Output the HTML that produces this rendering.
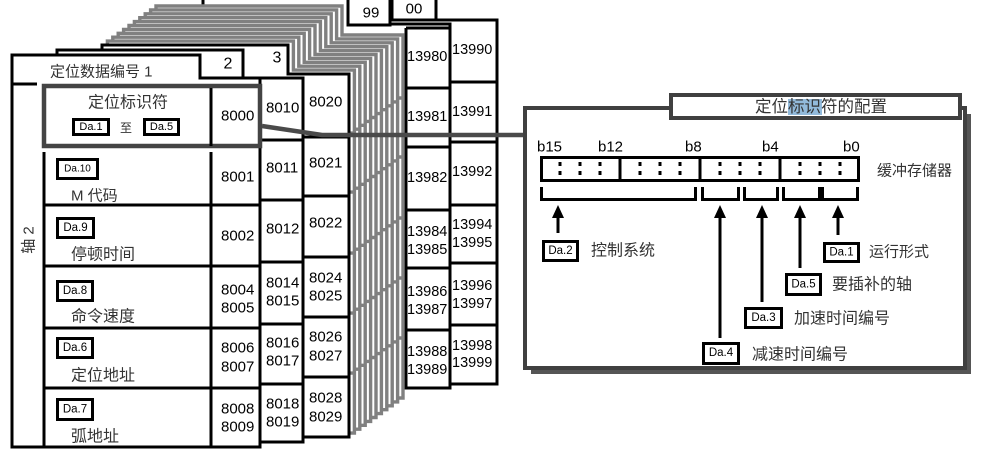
<!DOCTYPE html>
<html>
<head>
<meta charset="utf-8">
<style>
html,body{margin:0;padding:0;background:#fff;}
body{width:988px;height:460px;overflow:hidden;}
svg{display:block;}
.p{fill:#fff;stroke:#000;stroke-width:3;}
.g{fill:#fff;stroke:#808080;stroke-width:3.4;}
.ln{fill:none;stroke:#000;stroke-width:3;}
.gl{fill:none;stroke:#808080;stroke-width:3.4;}
text{dominant-baseline:central;}
.n{font-size:15px;fill:#000;}
.m{font-size:14.5px;fill:#000;}
.cj{font-size:16px;fill:#333;}
.da{font-size:11.5px;fill:#000;text-anchor:middle;}
.bx{fill:#fff;stroke:#000;stroke-width:3;}
</style>
</head>
<body>
<svg width="988" height="460" viewBox="0 0 988 460" font-family="'Liberation Sans','Noto Sans CJK SC',sans-serif">

<!-- Page 00 (back) -->
<polygon class="p" points="250,-6 436,-6 436,20 497,20 497,384 250,384"/>
<rect class="p" x="392" y="-4" width="44" height="24"/>
<text x="414" y="9" class="n" text-anchor="middle">00</text>
<path class="ln" d="M450 82H497M450 142H497M450 205H497M450 263H497M450 325H497"/>
<text class="m" x="452" y="50">13990</text>
<text class="m" x="452" y="112">13991</text>
<text class="m" x="452" y="172">13992</text>
<text class="m" x="452" y="225">13994</text>
<text class="m" x="452" y="243">13995</text>
<text class="m" x="452" y="286">13996</text>
<text class="m" x="452" y="304">13997</text>
<text class="m" x="452" y="346">13998</text>
<text class="m" x="452" y="363">13999</text>

<!-- Page 99 -->
<polygon class="p" points="203,-4 390,-4 390,24 450,24 450,388 203,388"/>
<rect class="p" x="348" y="-4" width="42" height="29"/>
<text x="371" y="13" class="n" text-anchor="middle">99</text>
<path class="ln" d="M406 28H450M406 28V388M406 88H450M406 147H450M406 210H450M406 268H450M406 330H450"/>
<text class="m" x="407" y="57">13980</text>
<text class="m" x="407" y="117">13981</text>
<text class="m" x="407" y="178">13982</text>
<text class="m" x="407" y="232">13984</text>
<text class="m" x="407" y="250">13985</text>
<text class="m" x="407" y="292">13986</text>
<text class="m" x="407" y="310">13987</text>
<text class="m" x="407" y="352">13988</text>
<text class="m" x="407" y="370">13989</text>

<!-- Gray intermediate pages (back to front) -->
<g transform="translate(54,-39)"><polygon class="g" points="102,45 288,45 288,74 349,74 349,437 102,437"/><path class="gl" d="M303 137H349M303 196H349M303 257H349M303 317H349M303 377H349"/></g>
<g transform="translate(48.6,-35.1)"><polygon class="g" points="102,45 288,45 288,74 349,74 349,437 102,437"/><path class="gl" d="M303 137H349M303 196H349M303 257H349M303 317H349M303 377H349"/></g>
<g transform="translate(43.2,-31.2)"><polygon class="g" points="102,45 288,45 288,74 349,74 349,437 102,437"/><path class="gl" d="M303 137H349M303 196H349M303 257H349M303 317H349M303 377H349"/></g>
<g transform="translate(37.8,-27.3)"><polygon class="g" points="102,45 288,45 288,74 349,74 349,437 102,437"/><path class="gl" d="M303 137H349M303 196H349M303 257H349M303 317H349M303 377H349"/></g>
<g transform="translate(32.4,-23.4)"><polygon class="g" points="102,45 288,45 288,74 349,74 349,437 102,437"/><path class="gl" d="M303 137H349M303 196H349M303 257H349M303 317H349M303 377H349"/></g>
<g transform="translate(27,-19.5)"><polygon class="g" points="102,45 288,45 288,74 349,74 349,437 102,437"/><path class="gl" d="M303 137H349M303 196H349M303 257H349M303 317H349M303 377H349"/></g>
<g transform="translate(21.6,-15.6)"><polygon class="g" points="102,45 288,45 288,74 349,74 349,437 102,437"/><path class="gl" d="M303 137H349M303 196H349M303 257H349M303 317H349M303 377H349"/></g>
<g transform="translate(16.2,-11.7)"><polygon class="g" points="102,45 288,45 288,74 349,74 349,437 102,437"/><path class="gl" d="M303 137H349M303 196H349M303 257H349M303 317H349M303 377H349"/></g>
<g transform="translate(10.8,-7.8)"><polygon class="g" points="102,45 288,45 288,74 349,74 349,437 102,437"/><path class="gl" d="M303 137H349M303 196H349M303 257H349M303 317H349M303 377H349"/></g>
<g transform="translate(5.4,-3.9)"><polygon class="g" points="102,45 288,45 288,74 349,74 349,437 102,437"/><path class="gl" d="M303 137H349M303 196H349M303 257H349M303 317H349M303 377H349"/></g>

<!-- Page 3 -->
<polygon class="p" points="102,45 288,45 288,74 349,74 349,437 102,437"/>
<path class="ln" d="M303 137H349M303 196H349M303 257H349M303 317H349M303 377H349"/>
<text x="277" y="58" class="n" text-anchor="middle" style="font-size:16px">3</text>
<text class="n" x="309" y="102">8020</text>
<text class="n" x="309" y="163">8021</text>
<text class="n" x="309" y="223">8022</text>
<text class="n" x="309" y="278">8024</text>
<text class="n" x="309" y="296">8025</text>
<text class="n" x="309" y="337">8026</text>
<text class="n" x="309" y="356">8027</text>
<text class="n" x="309" y="398">8028</text>
<text class="n" x="309" y="417">8029</text>

<!-- Page 2 -->
<polygon class="p" points="57,50 243,50 243,78 303,78 303,442 57,442"/>
<path class="ln" d="M260 140H303M260 200H303M260 262H303M260 324H303M260 384H303"/>
<text x="228" y="64" class="n" text-anchor="middle" style="font-size:16px">2</text>
<text class="n" x="266" y="108">8010</text>
<text class="n" x="266" y="168">8011</text>
<text class="n" x="266" y="229">8012</text>
<text class="n" x="266" y="283">8014</text>
<text class="n" x="266" y="301">8015</text>
<text class="n" x="266" y="343">8016</text>
<text class="n" x="266" y="361">8017</text>
<text class="n" x="266" y="404">8018</text>
<text class="n" x="266" y="422">8019</text>

<!-- Page 1 -->
<polygon class="p" points="12,55 200,55 200,78 260,78 260,447 12,447"/>
<text x="50" y="72" style="font-size:15px;fill:#333">定位数据编号 1</text>
<path class="ln" d="M12 84H37M44 152V447M211 152V447M44 205H260M44 266H260M44 328H260M44 388H260"/>
<text transform="translate(29,240) rotate(-90)" text-anchor="middle" style="font-size:15px;fill:#333">轴 2</text>

<rect x="44" y="86" width="216" height="60" fill="#fff" stroke="#444" stroke-width="4.5"/>
<path class="ln" d="M211 88V146"/>
<text x="128" y="103" class="cj" text-anchor="middle">定位标识符</text>
<rect class="bx" x="73.5" y="119.5" width="35" height="15"/>
<text class="da" x="91" y="127" style="font-size:11px">Da.1</text>
<text x="126" y="128" style="font-size:12px;fill:#333" text-anchor="middle">至</text>
<rect class="bx" x="144.5" y="119.5" width="34" height="15"/>
<text class="da" x="161.5" y="127" style="font-size:11px">Da.5</text>
<text class="n" x="221" y="116">8000</text>

<rect class="bx" x="57.5" y="159.5" width="40" height="19"/>
<text class="da" x="77.5" y="169" style="font-size:10px">Da.10</text>
<text x="71" y="196" class="cj" style="font-size:15px">M 代码</text>
<text class="n" x="221" y="177">8001</text>

<rect class="bx" x="57.5" y="218.5" width="36" height="19"/>
<text class="da" x="75.5" y="228">Da.9</text>
<text x="71" y="255" class="cj">停顿时间</text>
<text class="n" x="221" y="236">8002</text>

<rect class="bx" x="57.5" y="281.5" width="35" height="19"/>
<text class="da" x="75" y="291">Da.8</text>
<text x="71" y="317" class="cj">命令速度</text>
<text class="n" x="221" y="290">8004</text>
<text class="n" x="221" y="308">8005</text>

<rect class="bx" x="57.5" y="338.5" width="35" height="19"/>
<text class="da" x="75" y="348">Da.6</text>
<text x="71" y="376" class="cj">定位地址</text>
<text class="n" x="221" y="348">8006</text>
<text class="n" x="221" y="367">8007</text>

<rect class="bx" x="57.5" y="399.5" width="35" height="20"/>
<text class="da" x="75" y="409.5">Da.7</text>
<text x="71" y="437" class="cj">弧地址</text>
<text class="n" x="221" y="409">8008</text>
<text class="n" x="221" y="427">8009</text>

<!-- Connector -->
<polyline points="262,126 322,135 527,135" fill="none" stroke="#4a4a4a" stroke-width="4.5"/>

<!-- Right panel -->
<rect x="531" y="114" width="440" height="260" fill="#555"/>
<rect x="525" y="108" width="440" height="260" fill="#fff" stroke="#404040" stroke-width="4"/>
<rect x="671" y="95" width="289" height="23" fill="#fff" stroke="#404040" stroke-width="4"/>
<rect x="788" y="99" width="34" height="16" fill="#92badb"/>
<text x="755" y="107" style="font-size:16.5px;fill:#333">定位标识符的配置</text>

<text class="n" x="537" y="147">b15</text>
<text class="n" x="598" y="147">b12</text>
<text class="n" x="685" y="147">b8</text>
<text class="n" x="762" y="147">b4</text>
<text class="n" x="843" y="147">b0</text>

<rect x="541.5" y="157.5" width="317" height="23" fill="#fff" stroke="#000" stroke-width="3"/>
<path class="ln" d="M620 157V182M700 157V182M780 157V182"/>
<g fill="#000">
<rect x="558.5" y="162" width="3" height="4"/><rect x="558.5" y="171" width="3" height="4"/>
<rect x="578.5" y="162" width="3" height="4"/><rect x="578.5" y="171" width="3" height="4"/>
<rect x="598.5" y="162" width="3" height="4"/><rect x="598.5" y="171" width="3" height="4"/>
<rect x="638.5" y="162" width="3" height="4"/><rect x="638.5" y="171" width="3" height="4"/>
<rect x="658.5" y="162" width="3" height="4"/><rect x="658.5" y="171" width="3" height="4"/>
<rect x="678.5" y="162" width="3" height="4"/><rect x="678.5" y="171" width="3" height="4"/>
<rect x="718.5" y="162" width="3" height="4"/><rect x="718.5" y="171" width="3" height="4"/>
<rect x="738.5" y="162" width="3" height="4"/><rect x="738.5" y="171" width="3" height="4"/>
<rect x="758.5" y="162" width="3" height="4"/><rect x="758.5" y="171" width="3" height="4"/>
<rect x="798.5" y="162" width="3" height="4"/><rect x="798.5" y="171" width="3" height="4"/>
<rect x="818.5" y="162" width="3" height="4"/><rect x="818.5" y="171" width="3" height="4"/>
<rect x="838.5" y="162" width="3" height="4"/><rect x="838.5" y="171" width="3" height="4"/>
</g>
<text x="877" y="171" style="font-size:15px;fill:#333">缓冲存储器</text>

<!-- Brackets -->
<path class="ln" d="M541.5 187V199.5H695.5V187"/>
<path class="ln" d="M702.5 187V199.5H738.5V187"/>
<path class="ln" d="M744.5 187V199.5H777.5V187"/>
<path class="ln" d="M783.5 187V199.5H857.5V187"/>
<rect x="818" y="187" width="6" height="14" fill="#000"/>

<!-- Arrows -->
<g fill="#000">
<polygon points="552,218 558,205 564,218"/>
<polygon points="714,218 720,205 726,218"/>
<polygon points="756,218 762,205 768,218"/>
<polygon points="794,218 800,205 806,218"/>
<polygon points="832,218 838,205 844,218"/>
</g>
<path class="ln" d="M558 216V233M720 216V338M762 216V302M800 216V268M838 216V235"/>

<rect class="bx" x="543.5" y="241.5" width="34" height="19"/>
<text class="da" x="560.5" y="251">Da.2</text>
<text x="591" y="251" class="cj">控制系统</text>

<rect class="bx" x="824.5" y="243.5" width="34" height="18"/>
<text class="da" x="841.5" y="252.5">Da.1</text>
<text x="869" y="252" style="font-size:15px;fill:#333">运行形式</text>

<rect class="bx" x="786.5" y="274.5" width="34" height="20"/>
<text class="da" x="803.5" y="284.5">Da.5</text>
<text x="832" y="285" class="cj">要插补的轴</text>

<rect class="bx" x="745.5" y="308.5" width="36" height="19"/>
<text class="da" x="763.5" y="318">Da.3</text>
<text x="794" y="319" class="cj">加速时间编号</text>

<rect class="bx" x="703.5" y="343.5" width="35" height="20"/>
<text class="da" x="721" y="353">Da.4</text>
<text x="752" y="355" class="cj">减速时间编号</text>

</svg>
</body>
</html>
